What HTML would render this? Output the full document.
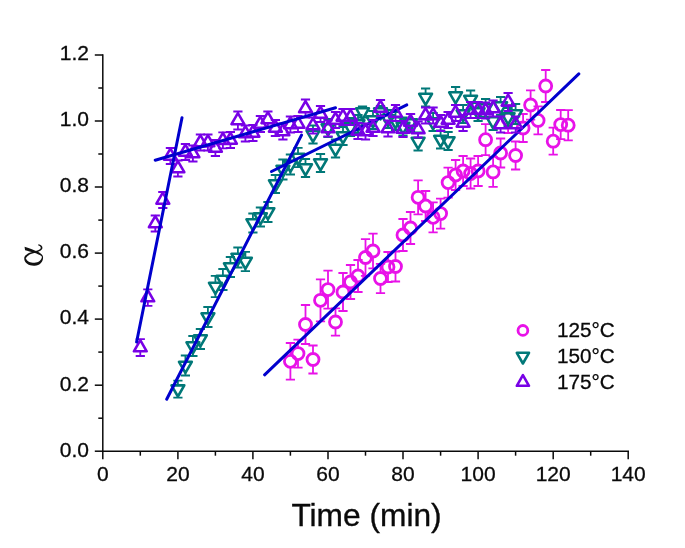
<!DOCTYPE html>
<html><head><meta charset="utf-8"><title>chart</title>
<style>html,body{margin:0;padding:0;background:#fff;}body{width:685px;height:548px;overflow:hidden;font-family:"Liberation Sans",sans-serif;}svg{display:block;opacity:0.999;will-change:transform}</style>
</head><body>
<svg width="685" height="548" viewBox="0 0 685 548">
<rect width="685" height="548" fill="#fff"/>
<g stroke="#0a0a0a" stroke-width="1.5" fill="none">
<path d="M102.8 54.2V451.95"/>
<path d="M102.05 451.2H629.0"/>
<path d="M102.8 451.2v8"/>
<path d="M140.3 451.2v4.5"/>
<path d="M177.9 451.2v8"/>
<path d="M215.4 451.2v4.5"/>
<path d="M252.9 451.2v8"/>
<path d="M290.4 451.2v4.5"/>
<path d="M328.0 451.2v8"/>
<path d="M365.5 451.2v4.5"/>
<path d="M403.0 451.2v8"/>
<path d="M440.6 451.2v4.5"/>
<path d="M478.1 451.2v8"/>
<path d="M515.6 451.2v4.5"/>
<path d="M553.2 451.2v8"/>
<path d="M590.7 451.2v4.5"/>
<path d="M628.2 451.2v8"/>
<path d="M102.8 451.2h-8"/>
<path d="M102.8 418.2h-4.5"/>
<path d="M102.8 385.2h-8"/>
<path d="M102.8 352.1h-4.5"/>
<path d="M102.8 319.1h-8"/>
<path d="M102.8 286.1h-4.5"/>
<path d="M102.8 253.1h-8"/>
<path d="M102.8 220.1h-4.5"/>
<path d="M102.8 187.0h-8"/>
<path d="M102.8 154.0h-4.5"/>
<path d="M102.8 121.0h-8"/>
<path d="M102.8 88.0h-4.5"/>
<path d="M102.8 55.0h-8"/>
</g>
<g font-family="Liberation Sans, sans-serif" font-size="21px" fill="#0a0a0a" stroke="#0a0a0a" stroke-width="0.3">
<text x="102.8" y="481.0" text-anchor="middle">0</text>
<text x="177.9" y="481.0" text-anchor="middle">20</text>
<text x="252.9" y="481.0" text-anchor="middle">40</text>
<text x="328.0" y="481.0" text-anchor="middle">60</text>
<text x="403.0" y="481.0" text-anchor="middle">80</text>
<text x="478.1" y="481.0" text-anchor="middle">100</text>
<text x="553.2" y="481.0" text-anchor="middle">120</text>
<text x="628.2" y="481.0" text-anchor="middle">140</text>
<text x="89" y="456.5" text-anchor="end">0.0</text>
<text x="89" y="390.5" text-anchor="end">0.2</text>
<text x="89" y="324.4" text-anchor="end">0.4</text>
<text x="89" y="258.4" text-anchor="end">0.6</text>
<text x="89" y="192.3" text-anchor="end">0.8</text>
<text x="89" y="126.3" text-anchor="end">1.0</text>
<text x="89" y="60.3" text-anchor="end">1.2</text>
</g>
<text x="366.5" y="525.6" text-anchor="middle" font-family="Liberation Sans, sans-serif" font-size="31.7px" fill="#0a0a0a" stroke="#0a0a0a" stroke-width="0.35">Time (min)</text>
<g transform="translate(15,235) scale(0.072993)"><g fill="#111" stroke="none">
<path d="M322,128 C372,140 398,178 352,214 C305,245 222,250 178,284 C160,298 152,308 150,322 L126,322 C126,298 138,284 160,268 C205,232 290,228 335,200 C368,178 352,152 316,140 Z"/>
<path d="M126,318 C126,390 200,424 268,420 C340,416 390,366 384,300 L370,296 C366,346 322,380 266,380 C210,380 158,360 150,318 Z"/>
<path d="M131,160 L138,208 C220,232 330,250 371,300 L385,304 C380,250 300,215 131,160 Z"/>
</g></g>
<path d="M290.4 343.0V355.3M290.4 367.3V379.6M285.8 343.0h9.2M285.8 379.6h9.2" stroke="#E812E8" stroke-width="1.8" fill="none"/>
<path d="M298.0 339.6V347.6M298.0 359.6V367.6M293.4 339.6h9.2M293.4 367.6h9.2" stroke="#E812E8" stroke-width="1.8" fill="none"/>
<path d="M305.5 305.0V318.5M305.5 330.5V344.0M300.9 305.0h9.2M300.9 344.0h9.2" stroke="#E812E8" stroke-width="1.8" fill="none"/>
<path d="M313.0 345.5V353.5M313.0 365.5V373.5M308.4 345.5h9.2M308.4 373.5h9.2" stroke="#E812E8" stroke-width="1.8" fill="none"/>
<path d="M320.5 279.3V294.3M320.5 306.3V321.3M315.9 279.3h9.2M315.9 321.3h9.2" stroke="#E812E8" stroke-width="1.8" fill="none"/>
<path d="M328.0 270.6V283.6M328.0 295.6V308.6M323.4 270.6h9.2M323.4 308.6h9.2" stroke="#E812E8" stroke-width="1.8" fill="none"/>
<path d="M335.5 308.4V316.0M335.5 328.0V335.6M330.9 308.4h9.2M330.9 335.6h9.2" stroke="#E812E8" stroke-width="1.8" fill="none"/>
<path d="M343.0 273.0V286.0M343.0 298.0V311.0M338.4 273.0h9.2M338.4 311.0h9.2" stroke="#E812E8" stroke-width="1.8" fill="none"/>
<path d="M350.5 265.0V276.0M350.5 288.0V299.0M345.9 265.0h9.2M345.9 299.0h9.2" stroke="#E812E8" stroke-width="1.8" fill="none"/>
<path d="M358.0 260.0V270.0M358.0 282.0V292.0M353.4 260.0h9.2M353.4 292.0h9.2" stroke="#E812E8" stroke-width="1.8" fill="none"/>
<path d="M365.5 239.1V251.5M365.5 263.5V275.9M360.9 239.1h9.2M360.9 275.9h9.2" stroke="#E812E8" stroke-width="1.8" fill="none"/>
<path d="M373.0 233.7V245.0M373.0 257.0V268.3M368.4 233.7h9.2M368.4 268.3h9.2" stroke="#E812E8" stroke-width="1.8" fill="none"/>
<path d="M380.5 263.9V272.5M380.5 284.5V293.1M375.9 263.9h9.2M375.9 293.1h9.2" stroke="#E812E8" stroke-width="1.8" fill="none"/>
<path d="M388.0 252.0V261.0M388.0 273.0V282.0M383.4 252.0h9.2M383.4 282.0h9.2" stroke="#E812E8" stroke-width="1.8" fill="none"/>
<path d="M395.5 251.5V260.5M395.5 272.5V281.5M390.9 251.5h9.2M390.9 281.5h9.2" stroke="#E812E8" stroke-width="1.8" fill="none"/>
<path d="M403.0 219.0V229.0M403.0 241.0V251.0M398.4 219.0h9.2M398.4 251.0h9.2" stroke="#E812E8" stroke-width="1.8" fill="none"/>
<path d="M410.5 212.0V222.0M410.5 234.0V244.0M405.9 212.0h9.2M405.9 244.0h9.2" stroke="#E812E8" stroke-width="1.8" fill="none"/>
<path d="M418.1 180.3V191.3M418.1 203.3V214.3M413.5 180.3h9.2M413.5 214.3h9.2" stroke="#E812E8" stroke-width="1.8" fill="none"/>
<path d="M425.6 191.0V200.0M425.6 212.0V221.0M421.0 191.0h9.2M421.0 221.0h9.2" stroke="#E812E8" stroke-width="1.8" fill="none"/>
<path d="M433.1 202.3V211.3M433.1 223.3V232.3M428.5 202.3h9.2M428.5 232.3h9.2" stroke="#E812E8" stroke-width="1.8" fill="none"/>
<path d="M440.6 198.6V207.6M440.6 219.6V228.6M436.0 198.6h9.2M436.0 228.6h9.2" stroke="#E812E8" stroke-width="1.8" fill="none"/>
<path d="M448.1 167.6V176.6M448.1 188.6V197.6M443.5 167.6h9.2M443.5 197.6h9.2" stroke="#E812E8" stroke-width="1.8" fill="none"/>
<path d="M455.6 160.0V169.0M455.6 181.0V190.0M451.0 160.0h9.2M451.0 190.0h9.2" stroke="#E812E8" stroke-width="1.8" fill="none"/>
<path d="M463.1 156.0V165.0M463.1 177.0V186.0M458.5 156.0h9.2M458.5 186.0h9.2" stroke="#E812E8" stroke-width="1.8" fill="none"/>
<path d="M470.6 158.5V167.5M470.6 179.5V188.5M466.0 158.5h9.2M466.0 188.5h9.2" stroke="#E812E8" stroke-width="1.8" fill="none"/>
<path d="M478.1 156.0V165.0M478.1 177.0V186.0M473.5 156.0h9.2M473.5 186.0h9.2" stroke="#E812E8" stroke-width="1.8" fill="none"/>
<path d="M485.6 124.2V133.7M485.6 145.7V155.2M481.0 124.2h9.2M481.0 155.2h9.2" stroke="#E812E8" stroke-width="1.8" fill="none"/>
<path d="M493.1 156.9V165.9M493.1 177.9V186.9M488.5 156.9h9.2M488.5 186.9h9.2" stroke="#E812E8" stroke-width="1.8" fill="none"/>
<path d="M500.6 138.5V147.0M500.6 159.0V167.5M496.0 138.5h9.2M496.0 167.5h9.2" stroke="#E812E8" stroke-width="1.8" fill="none"/>
<path d="M508.1 105.0V113.0M508.1 125.0V133.0M503.5 105.0h9.2M503.5 133.0h9.2" stroke="#E812E8" stroke-width="1.8" fill="none"/>
<path d="M515.6 141.5V149.5M515.6 161.5V169.5M511.0 141.5h9.2M511.0 169.5h9.2" stroke="#E812E8" stroke-width="1.8" fill="none"/>
<path d="M523.1 114.0V122.0M523.1 134.0V142.0M518.5 114.0h9.2M518.5 142.0h9.2" stroke="#E812E8" stroke-width="1.8" fill="none"/>
<path d="M530.6 90.4V99.0M530.6 111.0V119.6M526.0 90.4h9.2M526.0 119.6h9.2" stroke="#E812E8" stroke-width="1.8" fill="none"/>
<path d="M538.1 106.4V114.4M538.1 126.4V134.4M533.5 106.4h9.2M533.5 134.4h9.2" stroke="#E812E8" stroke-width="1.8" fill="none"/>
<path d="M545.7 70.0V80.0M545.7 92.0V102.0M541.1 70.0h9.2M541.1 102.0h9.2" stroke="#E812E8" stroke-width="1.8" fill="none"/>
<path d="M553.2 127.7V135.2M553.2 147.2V154.7M548.6 127.7h9.2M548.6 154.7h9.2" stroke="#E812E8" stroke-width="1.8" fill="none"/>
<path d="M560.7 110.0V118.6M560.7 130.6V139.2M556.1 110.0h9.2M556.1 139.2h9.2" stroke="#E812E8" stroke-width="1.8" fill="none"/>
<path d="M568.2 110.1V119.2M568.2 131.2V140.3M563.6 110.1h9.2M563.6 140.3h9.2" stroke="#E812E8" stroke-width="1.8" fill="none"/>
<circle cx="290.4" cy="361.3" r="6.0" stroke="#E812E8" stroke-width="2.8" fill="none"/>
<circle cx="298.0" cy="353.6" r="6.0" stroke="#E812E8" stroke-width="2.8" fill="none"/>
<circle cx="305.5" cy="324.5" r="6.0" stroke="#E812E8" stroke-width="2.8" fill="none"/>
<circle cx="313.0" cy="359.5" r="6.0" stroke="#E812E8" stroke-width="2.8" fill="none"/>
<circle cx="320.5" cy="300.3" r="6.0" stroke="#E812E8" stroke-width="2.8" fill="none"/>
<circle cx="328.0" cy="289.6" r="6.0" stroke="#E812E8" stroke-width="2.8" fill="none"/>
<circle cx="335.5" cy="322.0" r="6.0" stroke="#E812E8" stroke-width="2.8" fill="none"/>
<circle cx="343.0" cy="292.0" r="6.0" stroke="#E812E8" stroke-width="2.8" fill="none"/>
<circle cx="350.5" cy="282.0" r="6.0" stroke="#E812E8" stroke-width="2.8" fill="none"/>
<circle cx="358.0" cy="276.0" r="6.0" stroke="#E812E8" stroke-width="2.8" fill="none"/>
<circle cx="365.5" cy="257.5" r="6.0" stroke="#E812E8" stroke-width="2.8" fill="none"/>
<circle cx="373.0" cy="251.0" r="6.0" stroke="#E812E8" stroke-width="2.8" fill="none"/>
<circle cx="380.5" cy="278.5" r="6.0" stroke="#E812E8" stroke-width="2.8" fill="none"/>
<circle cx="388.0" cy="267.0" r="6.0" stroke="#E812E8" stroke-width="2.8" fill="none"/>
<circle cx="395.5" cy="266.5" r="6.0" stroke="#E812E8" stroke-width="2.8" fill="none"/>
<circle cx="403.0" cy="235.0" r="6.0" stroke="#E812E8" stroke-width="2.8" fill="none"/>
<circle cx="410.5" cy="228.0" r="6.0" stroke="#E812E8" stroke-width="2.8" fill="none"/>
<circle cx="418.1" cy="197.3" r="6.0" stroke="#E812E8" stroke-width="2.8" fill="none"/>
<circle cx="425.6" cy="206.0" r="6.0" stroke="#E812E8" stroke-width="2.8" fill="none"/>
<circle cx="433.1" cy="217.3" r="6.0" stroke="#E812E8" stroke-width="2.8" fill="none"/>
<circle cx="440.6" cy="213.6" r="6.0" stroke="#E812E8" stroke-width="2.8" fill="none"/>
<circle cx="448.1" cy="182.6" r="6.0" stroke="#E812E8" stroke-width="2.8" fill="none"/>
<circle cx="455.6" cy="175.0" r="6.0" stroke="#E812E8" stroke-width="2.8" fill="none"/>
<circle cx="463.1" cy="171.0" r="6.0" stroke="#E812E8" stroke-width="2.8" fill="none"/>
<circle cx="470.6" cy="173.5" r="6.0" stroke="#E812E8" stroke-width="2.8" fill="none"/>
<circle cx="478.1" cy="171.0" r="6.0" stroke="#E812E8" stroke-width="2.8" fill="none"/>
<circle cx="485.6" cy="139.7" r="6.0" stroke="#E812E8" stroke-width="2.8" fill="none"/>
<circle cx="493.1" cy="171.9" r="6.0" stroke="#E812E8" stroke-width="2.8" fill="none"/>
<circle cx="500.6" cy="153.0" r="6.0" stroke="#E812E8" stroke-width="2.8" fill="none"/>
<circle cx="508.1" cy="119.0" r="6.0" stroke="#E812E8" stroke-width="2.8" fill="none"/>
<circle cx="515.6" cy="155.5" r="6.0" stroke="#E812E8" stroke-width="2.8" fill="none"/>
<circle cx="523.1" cy="128.0" r="6.0" stroke="#E812E8" stroke-width="2.8" fill="none"/>
<circle cx="530.6" cy="105.0" r="6.0" stroke="#E812E8" stroke-width="2.8" fill="none"/>
<circle cx="538.1" cy="120.4" r="6.0" stroke="#E812E8" stroke-width="2.8" fill="none"/>
<circle cx="545.7" cy="86.0" r="6.0" stroke="#E812E8" stroke-width="2.8" fill="none"/>
<circle cx="553.2" cy="141.2" r="6.0" stroke="#E812E8" stroke-width="2.8" fill="none"/>
<circle cx="560.7" cy="124.6" r="6.0" stroke="#E812E8" stroke-width="2.8" fill="none"/>
<circle cx="568.2" cy="125.2" r="6.0" stroke="#E812E8" stroke-width="2.8" fill="none"/>
<path d="M264.6 374.8L578.8 73.9" stroke="#0000CD" stroke-width="3" stroke-linecap="round"/>
<path d="M177.9 380.6V385.4M177.9 396.5V397.6M173.3 380.6h9.2M173.3 397.6h9.2" stroke="#007878" stroke-width="1.8" fill="none"/>
<path d="M185.4 355.5V361.8M185.4 372.9V375.5M180.8 355.5h9.2M180.8 375.5h9.2" stroke="#007878" stroke-width="1.8" fill="none"/>
<path d="M192.9 336.0V342.3M192.9 353.4V356.0M188.3 336.0h9.2M188.3 356.0h9.2" stroke="#007878" stroke-width="1.8" fill="none"/>
<path d="M200.4 329.0V335.3M200.4 346.4V349.0M195.8 329.0h9.2M195.8 349.0h9.2" stroke="#007878" stroke-width="1.8" fill="none"/>
<path d="M207.9 307.0V313.3M207.9 324.4V327.0M203.3 307.0h9.2M203.3 327.0h9.2" stroke="#007878" stroke-width="1.8" fill="none"/>
<path d="M215.4 275.8V282.8M215.4 293.9V297.2M210.8 275.8h9.2M210.8 297.2h9.2" stroke="#007878" stroke-width="1.8" fill="none"/>
<path d="M222.9 269.0V275.8M222.9 286.9V290.0M218.3 269.0h9.2M218.3 290.0h9.2" stroke="#007878" stroke-width="1.8" fill="none"/>
<path d="M230.4 257.0V263.3M230.4 274.4V277.0M225.8 257.0h9.2M225.8 277.0h9.2" stroke="#007878" stroke-width="1.8" fill="none"/>
<path d="M237.9 247.5V253.8M237.9 264.9V267.5M233.3 247.5h9.2M233.3 267.5h9.2" stroke="#007878" stroke-width="1.8" fill="none"/>
<path d="M245.4 251.8V257.8M245.4 268.9V271.2M240.8 251.8h9.2M240.8 271.2h9.2" stroke="#007878" stroke-width="1.8" fill="none"/>
<path d="M252.9 213.5V219.3M252.9 230.4V232.5M248.3 213.5h9.2M248.3 232.5h9.2" stroke="#007878" stroke-width="1.8" fill="none"/>
<path d="M260.4 207.5V213.3M260.4 224.4V226.5M255.8 207.5h9.2M255.8 226.5h9.2" stroke="#007878" stroke-width="1.8" fill="none"/>
<path d="M267.9 202.0V208.3M267.9 219.4V222.0M263.3 202.0h9.2M263.3 222.0h9.2" stroke="#007878" stroke-width="1.8" fill="none"/>
<path d="M275.4 175.0V180.3M275.4 191.4V193.0M270.8 175.0h9.2M270.8 193.0h9.2" stroke="#007878" stroke-width="1.8" fill="none"/>
<path d="M282.9 159.5V165.8M282.9 176.9V179.5M278.3 159.5h9.2M278.3 179.5h9.2" stroke="#007878" stroke-width="1.8" fill="none"/>
<path d="M290.4 154.5V160.8M290.4 171.9V174.5M285.8 154.5h9.2M285.8 174.5h9.2" stroke="#007878" stroke-width="1.8" fill="none"/>
<path d="M298.0 147.8V153.8M298.0 164.9V167.2M293.4 147.8h9.2M293.4 167.2h9.2" stroke="#007878" stroke-width="1.8" fill="none"/>
<path d="M305.5 159.0V164.3M305.5 175.4V177.0M300.9 159.0h9.2M300.9 177.0h9.2" stroke="#007878" stroke-width="1.8" fill="none"/>
<path d="M313.0 125.5V130.8M313.0 141.9V143.5M308.4 125.5h9.2M308.4 143.5h9.2" stroke="#007878" stroke-width="1.8" fill="none"/>
<path d="M320.5 154.0V159.3M320.5 170.4V172.0M315.9 154.0h9.2M315.9 172.0h9.2" stroke="#007878" stroke-width="1.8" fill="none"/>
<path d="M328.0 119.0V124.3M328.0 135.4V137.0M323.4 119.0h9.2M323.4 137.0h9.2" stroke="#007878" stroke-width="1.8" fill="none"/>
<path d="M335.5 139.5V144.8M335.5 155.9V157.5M330.9 139.5h9.2M330.9 157.5h9.2" stroke="#007878" stroke-width="1.8" fill="none"/>
<path d="M343.0 127.0V132.3M343.0 143.4V145.0M338.4 127.0h9.2M338.4 145.0h9.2" stroke="#007878" stroke-width="1.8" fill="none"/>
<path d="M350.5 118.0V123.3M350.5 134.4V136.0M345.9 118.0h9.2M345.9 136.0h9.2" stroke="#007878" stroke-width="1.8" fill="none"/>
<path d="M358.0 115.0V120.3M358.0 131.4V133.0M353.4 115.0h9.2M353.4 133.0h9.2" stroke="#007878" stroke-width="1.8" fill="none"/>
<path d="M362.5 106.5V108.3M357.9 106.5h9.2M357.9 117.5h9.2" stroke="#007878" stroke-width="1.8" fill="none"/>
<path d="M373.0 111.0V116.3M373.0 127.4V129.0M368.4 111.0h9.2M368.4 129.0h9.2" stroke="#007878" stroke-width="1.8" fill="none"/>
<path d="M380.5 106.0V108.3M375.9 106.0h9.2M375.9 118.0h9.2" stroke="#007878" stroke-width="1.8" fill="none"/>
<path d="M388.0 110.0V115.3M388.0 126.4V128.0M383.4 110.0h9.2M383.4 128.0h9.2" stroke="#007878" stroke-width="1.8" fill="none"/>
<path d="M395.5 112.0V117.3M395.5 128.4V130.0M390.9 112.0h9.2M390.9 130.0h9.2" stroke="#007878" stroke-width="1.8" fill="none"/>
<path d="M403.0 117.5V122.8M403.0 133.9V135.5M398.4 117.5h9.2M398.4 135.5h9.2" stroke="#007878" stroke-width="1.8" fill="none"/>
<path d="M410.5 114.0V119.3M410.5 130.4V132.0M405.9 114.0h9.2M405.9 132.0h9.2" stroke="#007878" stroke-width="1.8" fill="none"/>
<path d="M418.1 132.5V137.8M418.1 148.9V150.5M413.5 132.5h9.2M413.5 150.5h9.2" stroke="#007878" stroke-width="1.8" fill="none"/>
<path d="M425.6 88.5V93.8M425.6 104.9V106.5M421.0 88.5h9.2M421.0 106.5h9.2" stroke="#007878" stroke-width="1.8" fill="none"/>
<path d="M433.1 113.0V118.3M433.1 129.4V131.0M428.5 113.0h9.2M428.5 131.0h9.2" stroke="#007878" stroke-width="1.8" fill="none"/>
<path d="M440.6 130.5V135.8M440.6 146.9V148.5M436.0 130.5h9.2M436.0 148.5h9.2" stroke="#007878" stroke-width="1.8" fill="none"/>
<path d="M448.1 132.0V137.3M448.1 148.4V150.0M443.5 132.0h9.2M443.5 150.0h9.2" stroke="#007878" stroke-width="1.8" fill="none"/>
<path d="M455.6 87.0V92.3M455.6 103.4V105.0M451.0 87.0h9.2M451.0 105.0h9.2" stroke="#007878" stroke-width="1.8" fill="none"/>
<path d="M463.1 105.0V110.3M463.1 121.4V123.0M458.5 105.0h9.2M458.5 123.0h9.2" stroke="#007878" stroke-width="1.8" fill="none"/>
<path d="M470.6 90.5V95.8M470.6 106.9V108.5M466.0 90.5h9.2M466.0 108.5h9.2" stroke="#007878" stroke-width="1.8" fill="none"/>
<path d="M478.1 103.0V108.3M478.1 119.4V121.0M473.5 103.0h9.2M473.5 121.0h9.2" stroke="#007878" stroke-width="1.8" fill="none"/>
<path d="M485.6 99.0V104.3M485.6 115.4V117.0M481.0 99.0h9.2M481.0 117.0h9.2" stroke="#007878" stroke-width="1.8" fill="none"/>
<path d="M493.1 112.0V117.3M493.1 128.4V130.0M488.5 112.0h9.2M488.5 130.0h9.2" stroke="#007878" stroke-width="1.8" fill="none"/>
<path d="M500.6 97.0V102.3M500.6 113.4V115.0M496.0 97.0h9.2M496.0 115.0h9.2" stroke="#007878" stroke-width="1.8" fill="none"/>
<path d="M508.1 108.0V113.3M508.1 124.4V126.0M503.5 108.0h9.2M503.5 126.0h9.2" stroke="#007878" stroke-width="1.8" fill="none"/>
<path d="M515.6 104.0V110.3M515.6 121.4V124.0M511.0 104.0h9.2M511.0 124.0h9.2" stroke="#007878" stroke-width="1.8" fill="none"/>
<polygon points="177.9,396.5 171.5,385.4 184.3,385.4" stroke="#007878" stroke-width="2.5999999999999996" fill="none" stroke-linejoin="round"/>
<polygon points="185.4,372.9 179.0,361.8 191.8,361.8" stroke="#007878" stroke-width="2.5999999999999996" fill="none" stroke-linejoin="round"/>
<polygon points="192.9,353.4 186.5,342.3 199.3,342.3" stroke="#007878" stroke-width="2.5999999999999996" fill="none" stroke-linejoin="round"/>
<polygon points="200.4,346.4 194.0,335.3 206.8,335.3" stroke="#007878" stroke-width="2.5999999999999996" fill="none" stroke-linejoin="round"/>
<polygon points="207.9,324.4 201.5,313.3 214.3,313.3" stroke="#007878" stroke-width="2.5999999999999996" fill="none" stroke-linejoin="round"/>
<polygon points="215.4,293.9 209.0,282.8 221.8,282.8" stroke="#007878" stroke-width="2.5999999999999996" fill="none" stroke-linejoin="round"/>
<polygon points="222.9,286.9 216.5,275.8 229.3,275.8" stroke="#007878" stroke-width="2.5999999999999996" fill="none" stroke-linejoin="round"/>
<polygon points="230.4,274.4 224.0,263.3 236.8,263.3" stroke="#007878" stroke-width="2.5999999999999996" fill="none" stroke-linejoin="round"/>
<polygon points="237.9,264.9 231.5,253.8 244.3,253.8" stroke="#007878" stroke-width="2.5999999999999996" fill="none" stroke-linejoin="round"/>
<polygon points="245.4,268.9 239.0,257.8 251.8,257.8" stroke="#007878" stroke-width="2.5999999999999996" fill="none" stroke-linejoin="round"/>
<polygon points="252.9,230.4 246.5,219.3 259.3,219.3" stroke="#007878" stroke-width="2.5999999999999996" fill="none" stroke-linejoin="round"/>
<polygon points="260.4,224.4 254.0,213.3 266.8,213.3" stroke="#007878" stroke-width="2.5999999999999996" fill="none" stroke-linejoin="round"/>
<polygon points="267.9,219.4 261.5,208.3 274.3,208.3" stroke="#007878" stroke-width="2.5999999999999996" fill="none" stroke-linejoin="round"/>
<polygon points="275.4,191.4 269.0,180.3 281.8,180.3" stroke="#007878" stroke-width="2.5999999999999996" fill="none" stroke-linejoin="round"/>
<polygon points="282.9,176.9 276.5,165.8 289.3,165.8" stroke="#007878" stroke-width="2.5999999999999996" fill="none" stroke-linejoin="round"/>
<polygon points="290.4,171.9 284.1,160.8 296.8,160.8" stroke="#007878" stroke-width="2.5999999999999996" fill="none" stroke-linejoin="round"/>
<polygon points="298.0,164.9 291.6,153.8 304.4,153.8" stroke="#007878" stroke-width="2.5999999999999996" fill="none" stroke-linejoin="round"/>
<polygon points="305.5,175.4 299.1,164.3 311.9,164.3" stroke="#007878" stroke-width="2.5999999999999996" fill="none" stroke-linejoin="round"/>
<polygon points="313.0,141.9 306.6,130.8 319.4,130.8" stroke="#007878" stroke-width="2.5999999999999996" fill="none" stroke-linejoin="round"/>
<polygon points="320.5,170.4 314.1,159.3 326.9,159.3" stroke="#007878" stroke-width="2.5999999999999996" fill="none" stroke-linejoin="round"/>
<polygon points="328.0,135.4 321.6,124.3 334.4,124.3" stroke="#007878" stroke-width="2.5999999999999996" fill="none" stroke-linejoin="round"/>
<polygon points="335.5,155.9 329.1,144.8 341.9,144.8" stroke="#007878" stroke-width="2.5999999999999996" fill="none" stroke-linejoin="round"/>
<polygon points="343.0,143.4 336.6,132.3 349.4,132.3" stroke="#007878" stroke-width="2.5999999999999996" fill="none" stroke-linejoin="round"/>
<polygon points="350.5,134.4 344.1,123.3 356.9,123.3" stroke="#007878" stroke-width="2.5999999999999996" fill="none" stroke-linejoin="round"/>
<polygon points="358.0,131.4 351.6,120.3 364.4,120.3" stroke="#007878" stroke-width="2.5999999999999996" fill="none" stroke-linejoin="round"/>
<polygon points="362.5,119.4 356.1,108.3 368.9,108.3" stroke="#007878" stroke-width="2.5999999999999996" fill="none" stroke-linejoin="round"/>
<polygon points="373.0,127.4 366.6,116.3 379.4,116.3" stroke="#007878" stroke-width="2.5999999999999996" fill="none" stroke-linejoin="round"/>
<polygon points="380.5,119.4 374.1,108.3 386.9,108.3" stroke="#007878" stroke-width="2.5999999999999996" fill="none" stroke-linejoin="round"/>
<polygon points="388.0,126.4 381.6,115.3 394.4,115.3" stroke="#007878" stroke-width="2.5999999999999996" fill="none" stroke-linejoin="round"/>
<polygon points="395.5,128.4 389.1,117.3 401.9,117.3" stroke="#007878" stroke-width="2.5999999999999996" fill="none" stroke-linejoin="round"/>
<polygon points="403.0,133.9 396.6,122.8 409.4,122.8" stroke="#007878" stroke-width="2.5999999999999996" fill="none" stroke-linejoin="round"/>
<polygon points="410.5,130.4 404.1,119.3 416.9,119.3" stroke="#007878" stroke-width="2.5999999999999996" fill="none" stroke-linejoin="round"/>
<polygon points="418.1,148.9 411.7,137.8 424.5,137.8" stroke="#007878" stroke-width="2.5999999999999996" fill="none" stroke-linejoin="round"/>
<polygon points="425.6,104.9 419.2,93.8 432.0,93.8" stroke="#007878" stroke-width="2.5999999999999996" fill="none" stroke-linejoin="round"/>
<polygon points="433.1,129.4 426.7,118.3 439.5,118.3" stroke="#007878" stroke-width="2.5999999999999996" fill="none" stroke-linejoin="round"/>
<polygon points="440.6,146.9 434.2,135.8 447.0,135.8" stroke="#007878" stroke-width="2.5999999999999996" fill="none" stroke-linejoin="round"/>
<polygon points="448.1,148.4 441.7,137.3 454.5,137.3" stroke="#007878" stroke-width="2.5999999999999996" fill="none" stroke-linejoin="round"/>
<polygon points="455.6,103.4 449.2,92.3 462.0,92.3" stroke="#007878" stroke-width="2.5999999999999996" fill="none" stroke-linejoin="round"/>
<polygon points="463.1,121.4 456.7,110.3 469.5,110.3" stroke="#007878" stroke-width="2.5999999999999996" fill="none" stroke-linejoin="round"/>
<polygon points="470.6,106.9 464.2,95.8 477.0,95.8" stroke="#007878" stroke-width="2.5999999999999996" fill="none" stroke-linejoin="round"/>
<polygon points="478.1,119.4 471.7,108.3 484.5,108.3" stroke="#007878" stroke-width="2.5999999999999996" fill="none" stroke-linejoin="round"/>
<polygon points="485.6,115.4 479.2,104.3 492.0,104.3" stroke="#007878" stroke-width="2.5999999999999996" fill="none" stroke-linejoin="round"/>
<polygon points="493.1,128.4 486.7,117.3 499.5,117.3" stroke="#007878" stroke-width="2.5999999999999996" fill="none" stroke-linejoin="round"/>
<polygon points="500.6,113.4 494.2,102.3 507.0,102.3" stroke="#007878" stroke-width="2.5999999999999996" fill="none" stroke-linejoin="round"/>
<polygon points="508.1,124.4 501.7,113.3 514.5,113.3" stroke="#007878" stroke-width="2.5999999999999996" fill="none" stroke-linejoin="round"/>
<polygon points="515.6,121.4 509.2,110.3 522.0,110.3" stroke="#007878" stroke-width="2.5999999999999996" fill="none" stroke-linejoin="round"/>
<path d="M166.7 399.2L301.5 135.1" stroke="#0000CD" stroke-width="3" stroke-linecap="round"/>
<path d="M271.5 171.5L406.8 104.9" stroke="#0000CD" stroke-width="3" stroke-linecap="round"/>
<path d="M140.3 339.2V340.2M140.3 351.3V356.0M135.7 339.2h9.2M135.7 356.0h9.2" stroke="#7800E6" stroke-width="1.8" fill="none"/>
<path d="M147.8 289.3V290.2M147.8 301.3V305.9M143.2 289.3h9.2M143.2 305.9h9.2" stroke="#7800E6" stroke-width="1.8" fill="none"/>
<path d="M155.3 215.5V216.1M155.3 227.2V231.5M150.7 215.5h9.2M150.7 231.5h9.2" stroke="#7800E6" stroke-width="1.8" fill="none"/>
<path d="M162.8 192.0V192.6M162.8 203.7V208.0M158.2 192.0h9.2M158.2 208.0h9.2" stroke="#7800E6" stroke-width="1.8" fill="none"/>
<path d="M170.4 148.0V148.6M170.4 159.7V164.0M165.8 148.0h9.2M165.8 164.0h9.2" stroke="#7800E6" stroke-width="1.8" fill="none"/>
<path d="M177.9 160.5V161.1M177.9 172.2V176.5M173.3 160.5h9.2M173.3 176.5h9.2" stroke="#7800E6" stroke-width="1.8" fill="none"/>
<path d="M185.4 144.0V144.6M185.4 155.7V160.0M180.8 144.0h9.2M180.8 160.0h9.2" stroke="#7800E6" stroke-width="1.8" fill="none"/>
<path d="M192.9 145.5V146.1M192.9 157.2V161.5M188.3 145.5h9.2M188.3 161.5h9.2" stroke="#7800E6" stroke-width="1.8" fill="none"/>
<path d="M200.4 134.5V135.1M200.4 146.2V150.5M195.8 134.5h9.2M195.8 150.5h9.2" stroke="#7800E6" stroke-width="1.8" fill="none"/>
<path d="M207.9 134.5V135.1M207.9 146.2V150.5M203.3 134.5h9.2M203.3 150.5h9.2" stroke="#7800E6" stroke-width="1.8" fill="none"/>
<path d="M215.4 140.0V140.6M215.4 151.7V156.0M210.8 140.0h9.2M210.8 156.0h9.2" stroke="#7800E6" stroke-width="1.8" fill="none"/>
<path d="M222.9 132.3V132.9M222.9 144.0V148.3M218.3 132.3h9.2M218.3 148.3h9.2" stroke="#7800E6" stroke-width="1.8" fill="none"/>
<path d="M230.4 132.0V132.6M230.4 143.7V148.0M225.8 132.0h9.2M225.8 148.0h9.2" stroke="#7800E6" stroke-width="1.8" fill="none"/>
<path d="M237.9 111.5V113.1M237.9 124.2V129.5M233.3 111.5h9.2M233.3 129.5h9.2" stroke="#7800E6" stroke-width="1.8" fill="none"/>
<path d="M245.4 125.5V126.1M245.4 137.2V141.5M240.8 125.5h9.2M240.8 141.5h9.2" stroke="#7800E6" stroke-width="1.8" fill="none"/>
<path d="M252.9 125.0V125.6M252.9 136.7V141.0M248.3 125.0h9.2M248.3 141.0h9.2" stroke="#7800E6" stroke-width="1.8" fill="none"/>
<path d="M260.4 116.0V116.6M260.4 127.7V132.0M255.8 116.0h9.2M255.8 132.0h9.2" stroke="#7800E6" stroke-width="1.8" fill="none"/>
<path d="M267.9 111.5V112.1M267.9 123.2V127.5M263.3 111.5h9.2M263.3 127.5h9.2" stroke="#7800E6" stroke-width="1.8" fill="none"/>
<path d="M275.4 120.0V120.6M275.4 131.7V136.0M270.8 120.0h9.2M270.8 136.0h9.2" stroke="#7800E6" stroke-width="1.8" fill="none"/>
<path d="M282.9 123.5V124.1M282.9 135.2V139.5M278.3 123.5h9.2M278.3 139.5h9.2" stroke="#7800E6" stroke-width="1.8" fill="none"/>
<path d="M290.4 116.5V117.1M290.4 128.2V132.5M285.8 116.5h9.2M285.8 132.5h9.2" stroke="#7800E6" stroke-width="1.8" fill="none"/>
<path d="M298.0 116.0V116.6M298.0 127.7V132.0M293.4 116.0h9.2M293.4 132.0h9.2" stroke="#7800E6" stroke-width="1.8" fill="none"/>
<path d="M305.5 99.5V101.1M305.5 112.2V117.5M300.9 99.5h9.2M300.9 117.5h9.2" stroke="#7800E6" stroke-width="1.8" fill="none"/>
<path d="M313.0 117.5V118.1M313.0 129.2V133.5M308.4 117.5h9.2M308.4 133.5h9.2" stroke="#7800E6" stroke-width="1.8" fill="none"/>
<path d="M320.5 106.0V106.6M320.5 117.7V122.0M315.9 106.0h9.2M315.9 122.0h9.2" stroke="#7800E6" stroke-width="1.8" fill="none"/>
<path d="M328.0 120.5V121.1M328.0 132.2V136.5M323.4 120.5h9.2M323.4 136.5h9.2" stroke="#7800E6" stroke-width="1.8" fill="none"/>
<path d="M335.5 112.0V112.6M335.5 123.7V128.0M330.9 112.0h9.2M330.9 128.0h9.2" stroke="#7800E6" stroke-width="1.8" fill="none"/>
<path d="M343.0 109.0V109.6M343.0 120.7V125.0M338.4 109.0h9.2M338.4 125.0h9.2" stroke="#7800E6" stroke-width="1.8" fill="none"/>
<path d="M350.5 109.0V109.6M350.5 120.7V125.0M345.9 109.0h9.2M345.9 125.0h9.2" stroke="#7800E6" stroke-width="1.8" fill="none"/>
<path d="M358.0 123.0V123.6M358.0 134.7V139.0M353.4 123.0h9.2M353.4 139.0h9.2" stroke="#7800E6" stroke-width="1.8" fill="none"/>
<path d="M365.5 123.5V124.1M365.5 135.2V139.5M360.9 123.5h9.2M360.9 139.5h9.2" stroke="#7800E6" stroke-width="1.8" fill="none"/>
<path d="M373.0 120.0V120.6M373.0 131.7V136.0M368.4 120.0h9.2M368.4 136.0h9.2" stroke="#7800E6" stroke-width="1.8" fill="none"/>
<path d="M380.5 100.0V100.6M380.5 111.7V116.0M375.9 100.0h9.2M375.9 116.0h9.2" stroke="#7800E6" stroke-width="1.8" fill="none"/>
<path d="M388.0 120.5V121.1M388.0 132.2V136.5M383.4 120.5h9.2M383.4 136.5h9.2" stroke="#7800E6" stroke-width="1.8" fill="none"/>
<path d="M395.5 105.0V105.6M395.5 116.7V121.0M390.9 105.0h9.2M390.9 121.0h9.2" stroke="#7800E6" stroke-width="1.8" fill="none"/>
<path d="M403.0 121.0V121.6M403.0 132.7V137.0M398.4 121.0h9.2M398.4 137.0h9.2" stroke="#7800E6" stroke-width="1.8" fill="none"/>
<path d="M410.5 114.0V114.6M410.5 125.7V130.0M405.9 114.0h9.2M405.9 130.0h9.2" stroke="#7800E6" stroke-width="1.8" fill="none"/>
<path d="M418.1 121.5V122.1M418.1 133.2V137.5M413.5 121.5h9.2M413.5 137.5h9.2" stroke="#7800E6" stroke-width="1.8" fill="none"/>
<path d="M425.6 107.5V108.1M425.6 119.2V123.5M421.0 107.5h9.2M421.0 123.5h9.2" stroke="#7800E6" stroke-width="1.8" fill="none"/>
<path d="M433.1 107.5V108.1M433.1 119.2V123.5M428.5 107.5h9.2M428.5 123.5h9.2" stroke="#7800E6" stroke-width="1.8" fill="none"/>
<path d="M440.6 115.0V115.6M440.6 126.7V131.0M436.0 115.0h9.2M436.0 131.0h9.2" stroke="#7800E6" stroke-width="1.8" fill="none"/>
<path d="M448.1 112.0V112.6M448.1 123.7V128.0M443.5 112.0h9.2M443.5 128.0h9.2" stroke="#7800E6" stroke-width="1.8" fill="none"/>
<path d="M455.6 105.0V105.6M455.6 116.7V121.0M451.0 105.0h9.2M451.0 121.0h9.2" stroke="#7800E6" stroke-width="1.8" fill="none"/>
<path d="M463.1 115.0V115.6M463.1 126.7V131.0M458.5 115.0h9.2M458.5 131.0h9.2" stroke="#7800E6" stroke-width="1.8" fill="none"/>
<path d="M470.6 102.0V102.6M470.6 113.7V118.0M466.0 102.0h9.2M466.0 118.0h9.2" stroke="#7800E6" stroke-width="1.8" fill="none"/>
<path d="M478.1 102.0V102.6M478.1 113.7V118.0M473.5 102.0h9.2M473.5 118.0h9.2" stroke="#7800E6" stroke-width="1.8" fill="none"/>
<path d="M485.6 102.5V103.1M485.6 114.2V118.5M481.0 102.5h9.2M481.0 118.5h9.2" stroke="#7800E6" stroke-width="1.8" fill="none"/>
<path d="M493.1 100.5V101.1M493.1 112.2V116.5M488.5 100.5h9.2M488.5 116.5h9.2" stroke="#7800E6" stroke-width="1.8" fill="none"/>
<path d="M500.6 116.5V117.1M500.6 128.2V132.5M496.0 116.5h9.2M496.0 132.5h9.2" stroke="#7800E6" stroke-width="1.8" fill="none"/>
<path d="M508.1 93.0V94.6M508.1 105.7V111.0M503.5 93.0h9.2M503.5 111.0h9.2" stroke="#7800E6" stroke-width="1.8" fill="none"/>
<path d="M515.6 116.5V117.1M515.6 128.2V132.5M511.0 116.5h9.2M511.0 132.5h9.2" stroke="#7800E6" stroke-width="1.8" fill="none"/>
<polygon points="140.3,340.2 133.9,351.3 146.7,351.3" stroke="#7800E6" stroke-width="2.5999999999999996" fill="none" stroke-linejoin="round"/>
<polygon points="147.8,290.2 141.4,301.3 154.2,301.3" stroke="#7800E6" stroke-width="2.5999999999999996" fill="none" stroke-linejoin="round"/>
<polygon points="155.3,216.1 148.9,227.2 161.7,227.2" stroke="#7800E6" stroke-width="2.5999999999999996" fill="none" stroke-linejoin="round"/>
<polygon points="162.8,192.6 156.4,203.7 169.2,203.7" stroke="#7800E6" stroke-width="2.5999999999999996" fill="none" stroke-linejoin="round"/>
<polygon points="170.4,148.6 164.0,159.7 176.8,159.7" stroke="#7800E6" stroke-width="2.5999999999999996" fill="none" stroke-linejoin="round"/>
<polygon points="177.9,161.1 171.5,172.2 184.3,172.2" stroke="#7800E6" stroke-width="2.5999999999999996" fill="none" stroke-linejoin="round"/>
<polygon points="185.4,144.6 179.0,155.7 191.8,155.7" stroke="#7800E6" stroke-width="2.5999999999999996" fill="none" stroke-linejoin="round"/>
<polygon points="192.9,146.1 186.5,157.2 199.3,157.2" stroke="#7800E6" stroke-width="2.5999999999999996" fill="none" stroke-linejoin="round"/>
<polygon points="200.4,135.1 194.0,146.2 206.8,146.2" stroke="#7800E6" stroke-width="2.5999999999999996" fill="none" stroke-linejoin="round"/>
<polygon points="207.9,135.1 201.5,146.2 214.3,146.2" stroke="#7800E6" stroke-width="2.5999999999999996" fill="none" stroke-linejoin="round"/>
<polygon points="215.4,140.6 209.0,151.7 221.8,151.7" stroke="#7800E6" stroke-width="2.5999999999999996" fill="none" stroke-linejoin="round"/>
<polygon points="222.9,132.9 216.5,144.0 229.3,144.0" stroke="#7800E6" stroke-width="2.5999999999999996" fill="none" stroke-linejoin="round"/>
<polygon points="230.4,132.6 224.0,143.7 236.8,143.7" stroke="#7800E6" stroke-width="2.5999999999999996" fill="none" stroke-linejoin="round"/>
<polygon points="237.9,113.1 231.5,124.2 244.3,124.2" stroke="#7800E6" stroke-width="2.5999999999999996" fill="none" stroke-linejoin="round"/>
<polygon points="245.4,126.1 239.0,137.2 251.8,137.2" stroke="#7800E6" stroke-width="2.5999999999999996" fill="none" stroke-linejoin="round"/>
<polygon points="252.9,125.6 246.5,136.7 259.3,136.7" stroke="#7800E6" stroke-width="2.5999999999999996" fill="none" stroke-linejoin="round"/>
<polygon points="260.4,116.6 254.0,127.7 266.8,127.7" stroke="#7800E6" stroke-width="2.5999999999999996" fill="none" stroke-linejoin="round"/>
<polygon points="267.9,112.1 261.5,123.2 274.3,123.2" stroke="#7800E6" stroke-width="2.5999999999999996" fill="none" stroke-linejoin="round"/>
<polygon points="275.4,120.6 269.0,131.7 281.8,131.7" stroke="#7800E6" stroke-width="2.5999999999999996" fill="none" stroke-linejoin="round"/>
<polygon points="282.9,124.1 276.5,135.2 289.3,135.2" stroke="#7800E6" stroke-width="2.5999999999999996" fill="none" stroke-linejoin="round"/>
<polygon points="290.4,117.1 284.1,128.2 296.8,128.2" stroke="#7800E6" stroke-width="2.5999999999999996" fill="none" stroke-linejoin="round"/>
<polygon points="298.0,116.6 291.6,127.7 304.4,127.7" stroke="#7800E6" stroke-width="2.5999999999999996" fill="none" stroke-linejoin="round"/>
<polygon points="305.5,101.1 299.1,112.2 311.9,112.2" stroke="#7800E6" stroke-width="2.5999999999999996" fill="none" stroke-linejoin="round"/>
<polygon points="313.0,118.1 306.6,129.2 319.4,129.2" stroke="#7800E6" stroke-width="2.5999999999999996" fill="none" stroke-linejoin="round"/>
<polygon points="320.5,106.6 314.1,117.7 326.9,117.7" stroke="#7800E6" stroke-width="2.5999999999999996" fill="none" stroke-linejoin="round"/>
<polygon points="328.0,121.1 321.6,132.2 334.4,132.2" stroke="#7800E6" stroke-width="2.5999999999999996" fill="none" stroke-linejoin="round"/>
<polygon points="335.5,112.6 329.1,123.7 341.9,123.7" stroke="#7800E6" stroke-width="2.5999999999999996" fill="none" stroke-linejoin="round"/>
<polygon points="343.0,109.6 336.6,120.7 349.4,120.7" stroke="#7800E6" stroke-width="2.5999999999999996" fill="none" stroke-linejoin="round"/>
<polygon points="350.5,109.6 344.1,120.7 356.9,120.7" stroke="#7800E6" stroke-width="2.5999999999999996" fill="none" stroke-linejoin="round"/>
<polygon points="358.0,123.6 351.6,134.7 364.4,134.7" stroke="#7800E6" stroke-width="2.5999999999999996" fill="none" stroke-linejoin="round"/>
<polygon points="365.5,124.1 359.1,135.2 371.9,135.2" stroke="#7800E6" stroke-width="2.5999999999999996" fill="none" stroke-linejoin="round"/>
<polygon points="373.0,120.6 366.6,131.7 379.4,131.7" stroke="#7800E6" stroke-width="2.5999999999999996" fill="none" stroke-linejoin="round"/>
<polygon points="380.5,100.6 374.1,111.7 386.9,111.7" stroke="#7800E6" stroke-width="2.5999999999999996" fill="none" stroke-linejoin="round"/>
<polygon points="388.0,121.1 381.6,132.2 394.4,132.2" stroke="#7800E6" stroke-width="2.5999999999999996" fill="none" stroke-linejoin="round"/>
<polygon points="395.5,105.6 389.1,116.7 401.9,116.7" stroke="#7800E6" stroke-width="2.5999999999999996" fill="none" stroke-linejoin="round"/>
<polygon points="403.0,121.6 396.6,132.7 409.4,132.7" stroke="#7800E6" stroke-width="2.5999999999999996" fill="none" stroke-linejoin="round"/>
<polygon points="410.5,114.6 404.1,125.7 416.9,125.7" stroke="#7800E6" stroke-width="2.5999999999999996" fill="none" stroke-linejoin="round"/>
<polygon points="418.1,122.1 411.7,133.2 424.5,133.2" stroke="#7800E6" stroke-width="2.5999999999999996" fill="none" stroke-linejoin="round"/>
<polygon points="425.6,108.1 419.2,119.2 432.0,119.2" stroke="#7800E6" stroke-width="2.5999999999999996" fill="none" stroke-linejoin="round"/>
<polygon points="433.1,108.1 426.7,119.2 439.5,119.2" stroke="#7800E6" stroke-width="2.5999999999999996" fill="none" stroke-linejoin="round"/>
<polygon points="440.6,115.6 434.2,126.7 447.0,126.7" stroke="#7800E6" stroke-width="2.5999999999999996" fill="none" stroke-linejoin="round"/>
<polygon points="448.1,112.6 441.7,123.7 454.5,123.7" stroke="#7800E6" stroke-width="2.5999999999999996" fill="none" stroke-linejoin="round"/>
<polygon points="455.6,105.6 449.2,116.7 462.0,116.7" stroke="#7800E6" stroke-width="2.5999999999999996" fill="none" stroke-linejoin="round"/>
<polygon points="463.1,115.6 456.7,126.7 469.5,126.7" stroke="#7800E6" stroke-width="2.5999999999999996" fill="none" stroke-linejoin="round"/>
<polygon points="470.6,102.6 464.2,113.7 477.0,113.7" stroke="#7800E6" stroke-width="2.5999999999999996" fill="none" stroke-linejoin="round"/>
<polygon points="478.1,102.6 471.7,113.7 484.5,113.7" stroke="#7800E6" stroke-width="2.5999999999999996" fill="none" stroke-linejoin="round"/>
<polygon points="485.6,103.1 479.2,114.2 492.0,114.2" stroke="#7800E6" stroke-width="2.5999999999999996" fill="none" stroke-linejoin="round"/>
<polygon points="493.1,101.1 486.7,112.2 499.5,112.2" stroke="#7800E6" stroke-width="2.5999999999999996" fill="none" stroke-linejoin="round"/>
<polygon points="500.6,117.1 494.2,128.2 507.0,128.2" stroke="#7800E6" stroke-width="2.5999999999999996" fill="none" stroke-linejoin="round"/>
<polygon points="508.1,94.6 501.7,105.7 514.5,105.7" stroke="#7800E6" stroke-width="2.5999999999999996" fill="none" stroke-linejoin="round"/>
<polygon points="515.6,117.1 509.2,128.2 522.0,128.2" stroke="#7800E6" stroke-width="2.5999999999999996" fill="none" stroke-linejoin="round"/>
<path d="M136.6 342L182.0 117.7" stroke="#0000CD" stroke-width="3" stroke-linecap="round"/>
<path d="M155.2 160.2L335.5 107.8" stroke="#0000CD" stroke-width="3" stroke-linecap="round"/>
<circle cx="522.9" cy="330.4" r="4.9" stroke="#E812E8" stroke-width="2.8" fill="none"/>
<polygon points="522.9,363.5 516.8,352.8 529.0,352.8" stroke="#007878" stroke-width="2.5999999999999996" fill="none" stroke-linejoin="round"/>
<polygon points="522.9,375.1 516.8,385.8 529.0,385.8" stroke="#7800E6" stroke-width="2.5999999999999996" fill="none" stroke-linejoin="round"/>
<g font-family="Liberation Sans, sans-serif" font-size="20.7px" fill="#0a0a0a" stroke="#0a0a0a" stroke-width="0.3">
<text x="557" y="337.3">125°C</text>
<text x="557" y="363.1">150°C</text>
<text x="557" y="388.9">175°C</text>
</g>
</svg>
</body></html>
